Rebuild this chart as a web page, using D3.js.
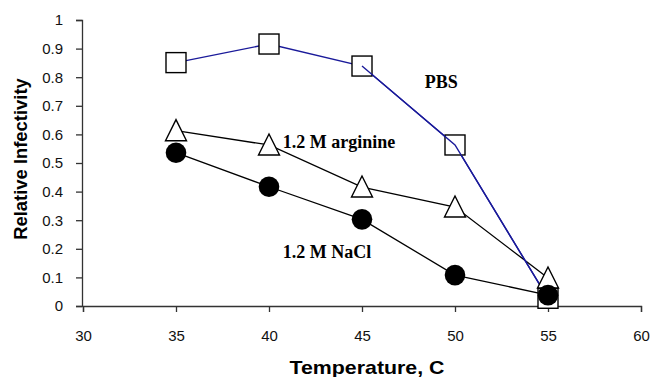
<!DOCTYPE html>
<html><head><meta charset="utf-8">
<script src="https://cdn.jsdelivr.net/npm/d3@7"></script>
<style>body{margin:0;background:#fff}svg{display:block}</style>
</head><body><svg id="c" width="650" height="377"></svg>
<script>
const temps = [35, 40, 45, 50, 55];
const pbs = [0.851, 0.916, 0.839, 0.563, 0.027];
const arginine = [0.613, 0.563, 0.416, 0.346, 0.098];
const nacl = [0.536, 0.417, 0.303, 0.108, 0.038];
const xTicks = [30, 35, 40, 45, 50, 55, 60];
const yTicks = [0, 0.1, 0.2, 0.3, 0.4, 0.5, 0.6, 0.7, 0.8, 0.9, 1];
const seriesLabels = [
  {text: "PBS", t: 48.38, v: 0.761},
  {text: "1.2 M arginine", t: 40.74, v: 0.554},
  {text: "1.2 M NaCl", t: 40.74, v: 0.168}
];

const svg = d3.select("#c");
const x = d3.scaleLinear().domain([30, 60]).range([83, 641]);
const y = d3.scaleLinear().domain([0, 1]).range([306, 20]);

const xAxis = svg.append("g").attr("transform", "translate(0,306)")
  .call(d3.axisBottom(x).tickValues(xTicks).tickFormat(d3.format("d")).tickSizeOuter(0).tickSize(6).tickPadding(18));
const yAxis = svg.append("g").attr("transform", "translate(82,0)")
  .call(d3.axisLeft(y).tickValues(yTicks).tickFormat(d => d === 0 ? "0" : d === 1 ? "1" : d3.format(".1f")(d)).tickSizeOuter(0).tickSize(6).tickPadding(13));
[xAxis, yAxis].forEach(a => {
  a.selectAll("path,line").attr("stroke", "#333").attr("stroke-width", 1.3);
  a.selectAll("text").attr("font-family", "Liberation Sans, Arial, sans-serif").attr("font-size", 15).attr("fill", "#111");
});

svg.append("text").attr("transform", "translate(367,374) scale(1.22,1)").attr("text-anchor", "middle")
  .attr("font-family", "Liberation Sans, Arial, sans-serif").attr("font-weight", "bold").attr("font-size", 17.5)
  .text("Temperature, C");
svg.append("text").attr("transform", "translate(27,159) rotate(-90)").attr("text-anchor", "middle")
  .attr("font-family", "Liberation Sans, Arial, sans-serif").attr("font-weight", "bold").attr("font-size", 18.4)
  .text("Relative Infectivity");

const line = d3.line().x(d => x(d[0])).y(d => y(d[1]));
const mk = vals => temps.map((t, i) => [t, vals[i]]);

svg.append("path").datum(mk(arginine)).attr("d", line).attr("fill", "none").attr("stroke", "#000").attr("stroke-width", 1.3);
svg.append("path").datum(mk(nacl)).attr("d", line).attr("fill", "none").attr("stroke", "#000").attr("stroke-width", 1.3);
svg.append("path").datum(mk(pbs)).attr("d", line).attr("fill", "none").attr("stroke", "#1a1a9a").attr("stroke-width", 1.4);

// markers
svg.append("g").selectAll("rect").data(mk(pbs)).join("rect")
  .attr("x", d => x(d[0]) - 10).attr("y", d => y(d[1]) - 10).attr("width", 20).attr("height", 20)
  .attr("fill", "#fff").attr("stroke", "#000").attr("stroke-width", 1.4);
// PBS segments after 45 drawn over the squares, as in the reference
svg.append("path").datum(mk(pbs).slice(2)).attr("d", line).attr("fill", "none").attr("stroke", "#1a1a9a").attr("stroke-width", 1.4);
svg.append("g").selectAll("path").data(mk(arginine)).join("path")
  .attr("d", d => { const cx = x(d[0]), cy = y(d[1]); return `M${cx},${cy-11}L${cx+10.5},${cy+10}L${cx-10.5},${cy+10}Z`; })
  .attr("fill", "#fff").attr("stroke", "#000").attr("stroke-width", 1.4);
svg.append("g").selectAll("circle").data(mk(nacl)).join("circle")
  .attr("cx", d => x(d[0])).attr("cy", d => y(d[1])).attr("r", 10.3)
  .attr("fill", "#000");

svg.append("g").selectAll("text").data(seriesLabels).join("text")
  .attr("x", d => x(d.t)).attr("y", d => y(d.v))
  .attr("font-family", "Liberation Serif, Times New Roman, serif").attr("font-weight", "bold").attr("font-size", 18)
  .text(d => d.text);
</script></body></html>
